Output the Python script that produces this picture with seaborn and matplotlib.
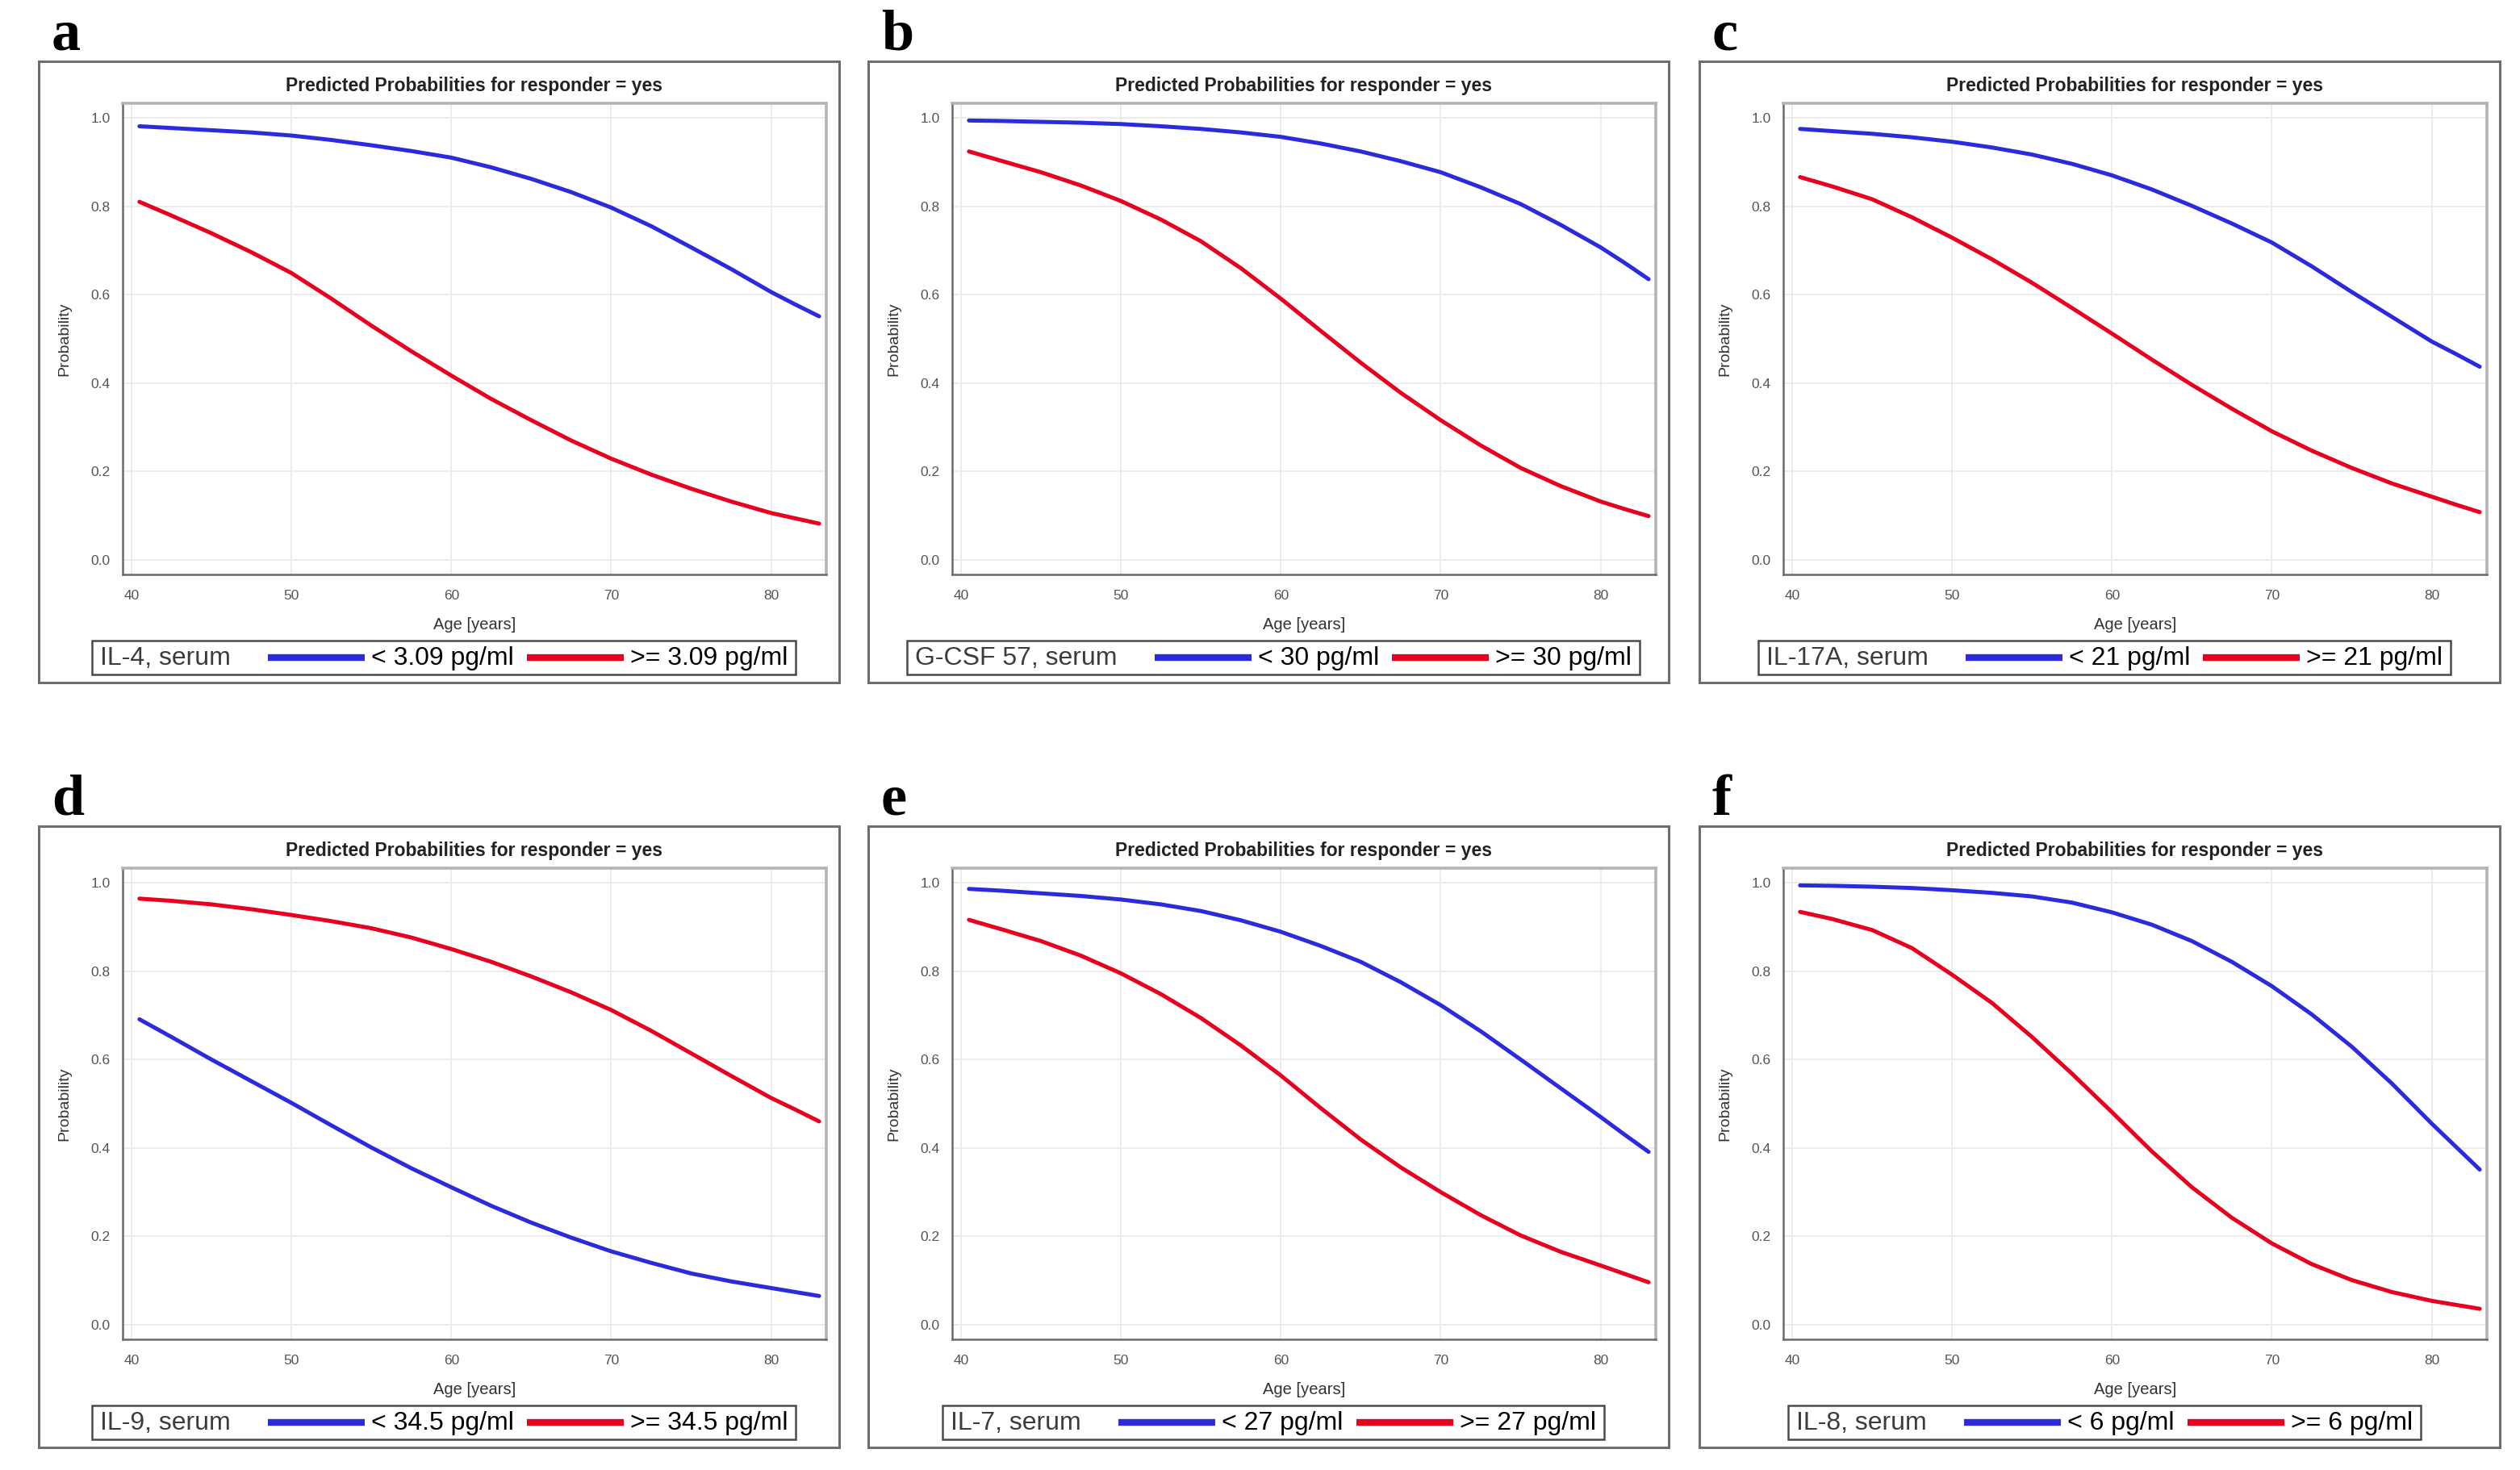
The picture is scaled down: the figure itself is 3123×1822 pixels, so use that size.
import matplotlib
matplotlib.use("Agg")
import matplotlib.pyplot as plt
from matplotlib import font_manager
from matplotlib.lines import Line2D
from matplotlib.patches import Rectangle
from matplotlib.ticker import FormatStrFormatter
import pandas as pd
import seaborn as sns

# ── data ──────────────────────────────────────────────────────────────────────
AGE = [40.5, 42.5, 45, 47.5, 50, 52.5, 55, 57.5, 60, 62.5,
       65, 67.5, 70, 72.5, 75, 77.5, 80, 81.5, 83]

IL4_LOW  = [0.981, 0.977, 0.972, 0.967, 0.960, 0.950, 0.938, 0.925, 0.910, 0.888,
            0.862, 0.832, 0.797, 0.755, 0.707, 0.658, 0.606, 0.578, 0.551]
IL4_HIGH = [0.810, 0.779, 0.739, 0.696, 0.649, 0.591, 0.530, 0.472, 0.417, 0.364,
            0.316, 0.270, 0.229, 0.193, 0.161, 0.132, 0.106, 0.094, 0.082]

GCSF_LOW  = [0.994, 0.993, 0.991, 0.989, 0.986, 0.981, 0.975, 0.967, 0.957, 0.942,
             0.924, 0.902, 0.877, 0.843, 0.805, 0.758, 0.707, 0.672, 0.635]
GCSF_HIGH = [0.924, 0.903, 0.877, 0.847, 0.812, 0.770, 0.721, 0.660, 0.591, 0.518,
             0.446, 0.378, 0.316, 0.259, 0.208, 0.167, 0.132, 0.115, 0.099]

IL17A_LOW  = [0.975, 0.970, 0.964, 0.956, 0.946, 0.933, 0.917, 0.896, 0.870, 0.838,
              0.801, 0.761, 0.718, 0.664, 0.606, 0.550, 0.494, 0.466, 0.437]
IL17A_HIGH = [0.866, 0.845, 0.816, 0.775, 0.729, 0.680, 0.627, 0.570, 0.512, 0.453,
              0.396, 0.342, 0.291, 0.247, 0.208, 0.173, 0.143, 0.125, 0.108]

IL9_LOW  = [0.691, 0.651, 0.600, 0.551, 0.502, 0.451, 0.401, 0.354, 0.311, 0.269,
            0.231, 0.197, 0.166, 0.140, 0.116, 0.098, 0.083, 0.074, 0.065]
IL9_HIGH = [0.964, 0.959, 0.951, 0.940, 0.927, 0.913, 0.897, 0.876, 0.850, 0.821,
            0.788, 0.752, 0.712, 0.665, 0.614, 0.563, 0.513, 0.487, 0.460]

IL7_LOW  = [0.986, 0.982, 0.976, 0.970, 0.962, 0.951, 0.936, 0.915, 0.889, 0.857,
            0.821, 0.775, 0.723, 0.664, 0.600, 0.535, 0.470, 0.430, 0.391]
IL7_HIGH = [0.916, 0.895, 0.868, 0.835, 0.795, 0.748, 0.694, 0.632, 0.564, 0.490,
            0.419, 0.356, 0.300, 0.248, 0.202, 0.165, 0.134, 0.115, 0.096]

IL8_LOW  = [0.994, 0.993, 0.991, 0.988, 0.983, 0.977, 0.969, 0.955, 0.933, 0.905,
            0.868, 0.821, 0.766, 0.702, 0.629, 0.546, 0.455, 0.403, 0.351]
IL8_HIGH = [0.934, 0.918, 0.893, 0.852, 0.792, 0.728, 0.651, 0.568, 0.481, 0.392,
            0.311, 0.242, 0.184, 0.137, 0.101, 0.074, 0.054, 0.045, 0.036]

LETTERS = ["a", "b", "c", "d", "e", "f"]
MARKERS = ["IL-4, serum", "G-CSF 57, serum", "IL-17A, serum",
           "IL-9, serum", "IL-7, serum", "IL-8, serum"]
CUTOFFS = ["3.09", "30", "21", "34.5", "27", "6"]
LOW_SERIES  = [IL4_LOW, GCSF_LOW, IL17A_LOW, IL9_LOW, IL7_LOW, IL8_LOW]
HIGH_SERIES = [IL4_HIGH, GCSF_HIGH, IL17A_HIGH, IL9_HIGH, IL7_HIGH, IL8_HIGH]

X_TICKS = [40, 50, 60, 70, 80]
Y_TICKS = [0.0, 0.2, 0.4, 0.6, 0.8, 1.0]

TITLE = "Predicted Probabilities for responder = yes"
BLUE = "#2B2BDD"
RED = "#E8001E"

# ── layout (pixels, top-left origin) ──────────────────────────────────────────
W, H, DPI = 3123, 1822, 100
PANEL_LEFT = [48, 1076, 2106]
PANEL_TOP = [76, 1024]
PANEL_W, PANEL_H = 992, 770
PLOT_L, PLOT_T, PLOT_W, PLOT_H = 104, 52, 872, 584

sns.set_theme(style="white")
plt.rcParams["font.family"] = ["Liberation Sans", "DejaVu Sans"]

installed = {f.name for f in font_manager.fontManager.ttflist}
if "Liberation Sans Narrow" in installed:
    LEG_FONT, LEG_SIZE = ["Liberation Sans Narrow", "DejaVu Sans"], 28
else:
    LEG_FONT, LEG_SIZE = ["Liberation Sans", "DejaVu Sans"], 23


def fx(x):
    return x / W


def fy(y):
    return 1 - y / H


fig = plt.figure(figsize=(W / DPI, H / DPI), dpi=DPI)
fig.patch.set_facecolor("white")
renderer = fig.canvas.get_renderer()


def draw_legend(cx, cy, name, cutoff):
    """Row legend: name, blue line, '< x', red line, '>= x', inside a box."""
    pieces = [
        ("text", name, "#3c3c3c"),
        ("gap", 46, None),
        ("line", 120, BLUE),
        ("gap", 8, None),
        ("text", f"< {cutoff} pg/ml", "black"),
        ("gap", 16, None),
        ("line", 120, RED),
        ("gap", 8, None),
        ("text", f">= {cutoff} pg/ml", "black"),
    ]
    pad = 10
    widths = []
    texts = []
    for kind, val, col in pieces:
        if kind == "text":
            t = fig.text(0, 0, val, family=LEG_FONT, fontsize=LEG_SIZE,
                         color=col, ha="left", va="center")
            widths.append(t.get_window_extent(renderer).width)
            texts.append(t)
        else:
            widths.append(val)
            texts.append(None)
    total = sum(widths) + 2 * pad
    x = cx - total / 2
    box_h = 42
    fig.add_artist(Rectangle((fx(x), fy(cy + box_h / 2)), total / W, box_h / H,
                             transform=fig.transFigure, fill=False,
                             ec="#4a4a4a", lw=1.8))
    x += pad
    for (kind, val, col), w, t in zip(pieces, widths, texts):
        if kind == "text":
            t.set_position((fx(x), fy(cy + 1)))
        elif kind == "line":
            fig.add_artist(Line2D([fx(x), fx(x + w)], [fy(cy), fy(cy)],
                                  transform=fig.transFigure, color=col,
                                  lw=6, solid_capstyle="butt"))
        x += w


for i, letter in enumerate(LETTERS):
    left = PANEL_LEFT[i % 3]
    top = PANEL_TOP[i // 3]

    # outer panel frame
    fig.add_artist(Rectangle((fx(left), fy(top + PANEL_H)), PANEL_W / W, PANEL_H / H,
                             transform=fig.transFigure, fill=False,
                             ec="#6e6e6e", lw=2.2))
    fig.text(fx(left + 16), fy(top - 14), letter, family=["Liberation Serif", "DejaVu Serif"],
             fontsize=52, fontweight="bold", color="black", ha="left", va="baseline")

    ax = fig.add_axes([fx(left + PLOT_L), fy(top + PLOT_T + PLOT_H),
                       PLOT_W / W, PLOT_H / H])

    low_label = f"< {CUTOFFS[i]} pg/ml"
    high_label = f">= {CUTOFFS[i]} pg/ml"
    df = pd.DataFrame({
        "age": AGE + AGE,
        "prob": LOW_SERIES[i] + HIGH_SERIES[i],
        "group": [low_label] * len(AGE) + [high_label] * len(AGE),
    })
    sns.lineplot(data=df, x="age", y="prob", hue="group",
                 palette={low_label: BLUE, high_label: RED},
                 lw=3.6, legend=False, ax=ax)

    ax.set_xlim(39.45, 83.45)
    ax.set_ylim(-0.033, 1.033)
    ax.set_xticks(X_TICKS)
    ax.set_yticks(Y_TICKS)
    ax.yaxis.set_major_formatter(FormatStrFormatter("%.1f"))
    ax.grid(True, color="#ebebeb", lw=1.3)
    ax.set_axisbelow(True)
    ax.set_xlabel("")
    ax.set_ylabel("")
    for side in ("left", "bottom"):
        ax.spines[side].set_color("#6a6a6a")
        ax.spines[side].set_linewidth(1.8)
    for side in ("top", "right"):
        ax.spines[side].set_color("#b4b4b4")
        ax.spines[side].set_linewidth(2.6)
    ax.tick_params(axis="both", direction="out", length=5, width=1.3,
                   color="#6a6a6a", labelcolor="#555555", labelsize=12.5, pad=6)
    ax.tick_params(axis="x", pad=9)

    cx = left + PLOT_L + PLOT_W / 2
    fig.text(fx(cx), fy(top + 30), TITLE, fontsize=16.5, fontweight="bold",
             color="#222222", ha="center", va="center")
    fig.text(fx(left + 32), fy(top + PLOT_T + PLOT_H / 2), "Probability",
             fontsize=14, color="#333333", rotation=90, ha="center", va="center")
    fig.text(fx(cx), fy(top + 698), "Age [years]", fontsize=14.5,
             color="#333333", ha="center", va="center")

    draw_legend(left + PANEL_W / 2 + 6, top + 739, MARKERS[i], CUTOFFS[i])

fig.savefig("out.png", dpi=DPI, facecolor="white")
